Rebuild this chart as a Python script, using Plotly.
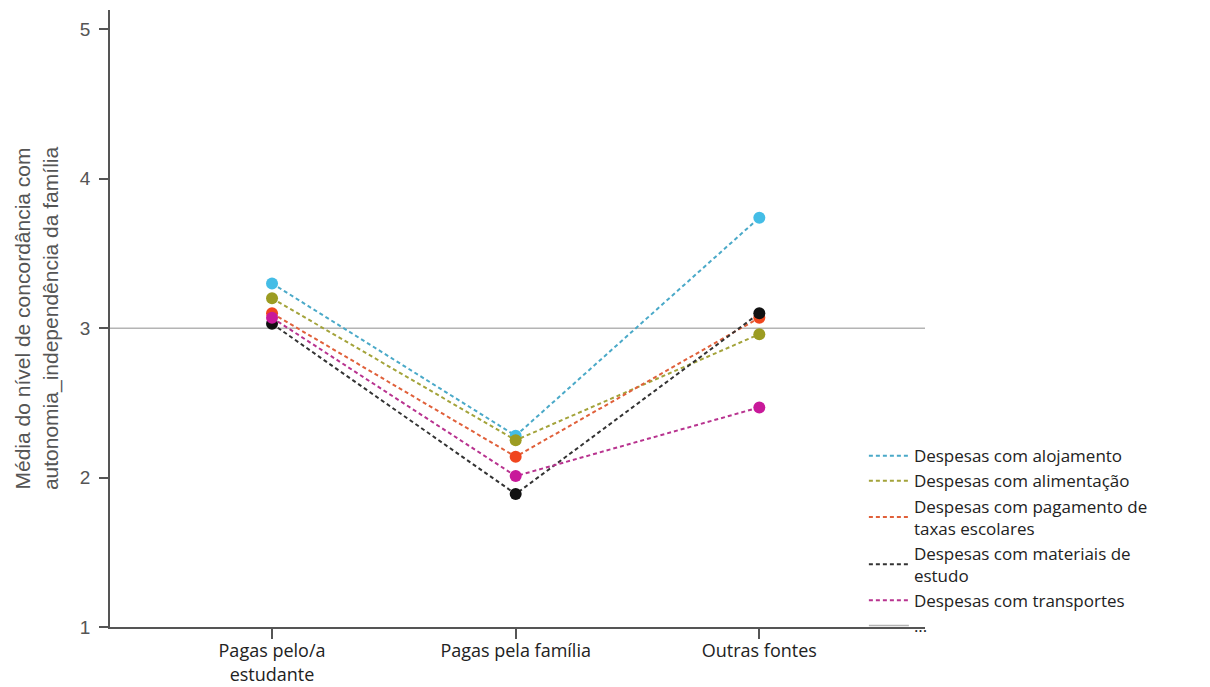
import plotly.graph_objects as go

# Categories (who pays the expenses) and mean agreement per expense type
categories = ["Pagas pelo/a<br>estudante", "Pagas pela família", "Outras fontes"]
series_names = [
    "Despesas com alojamento",
    "Despesas com alimentação",
    "Despesas com pagamento de<br>taxas escolares",
    "Despesas com materiais de<br>estudo",
    "Despesas com transportes",
]
alojamento = [3.30, 2.28, 3.74]
alimentacao = [3.20, 2.25, 2.96]
taxas = [3.10, 2.14, 3.07]
materiais = [3.03, 1.89, 3.10]
transportes = [3.07, 2.01, 2.47]
series_values = [alojamento, alimentacao, taxas, materiais, transportes]
colors = ["#44bde6", "#9c9c22", "#f0461e", "#111111", "#c8199a"]
line_colors = ["#4aa9c8", "#a3a33a", "#e0603a", "#333333", "#b8338f"]
reference_value = 3

x_pos = list(range(len(categories)))
dash_style = "4px,3px"

fig = go.Figure()
for name, vals, c, lc in zip(series_names, series_values, colors, line_colors):
    fig.add_trace(go.Scatter(
        x=x_pos, y=vals, name=name, mode="lines+markers",
        line=dict(color=lc, width=2, dash=dash_style),
        marker=dict(color=c, size=12),
        showlegend=False,
    ))

# Legend entries show only the dashed line, without the marker
for name, lc in zip(series_names, line_colors):
    fig.add_trace(go.Scatter(
        x=[None], y=[None], name=name, mode="lines",
        line=dict(color=lc, width=2, dash=dash_style),
        showlegend=True, hoverinfo="skip",
    ))

# Reference line at the scale midpoint
fig.add_shape(
    type="line", xref="paper", x0=0, x1=1, yref="y",
    y0=reference_value, y1=reference_value,
    line=dict(color="#b4b4b4", width=1.5),
    layer="below", showlegend=True, name="...",
)

axis_color = "#555555"
fig.update_layout(
    width=1210, height=687,
    margin=dict(l=110, r=285, t=10, b=60),
    paper_bgcolor="white", plot_bgcolor="white",
    showlegend=True,
    legend=dict(
        x=0.925, y=0.306, xanchor="left", yanchor="top",
        font=dict(family="Open Sans", size=17, color="#222222"),
        tracegroupgap=0, itemwidth=40,
        bgcolor="rgba(0,0,0,0)",
    ),
    xaxis=dict(
        range=[-0.665, 2.68], tickvals=x_pos, ticktext=categories,
        showgrid=False, zeroline=False, automargin=False,
        showline=True, linecolor=axis_color, linewidth=1.5,
        ticks="outside", ticklen=10, tickwidth=1.5, tickcolor=axis_color,
        ticklabelstandoff=-3,
        tickfont=dict(family="Open Sans", size=18, color="#222222"),
    ),
    yaxis=dict(
        range=[1, 5.13], tickvals=[1, 2, 3, 4, 5],
        showgrid=False, zeroline=False, automargin=False,
        showline=True, linecolor=axis_color, linewidth=1.5,
        ticks="outside", ticklen=9, tickwidth=1.5, tickcolor=axis_color,
        ticklabelstandoff=5,
        tickfont=dict(family="Liberation Sans", size=19, color="#555555"),
        title=dict(
            text="Média do nível de concordância com<br>autonomia_independência da família",
            font=dict(family="Liberation Sans", size=21, color="#555555"),
            standoff=16,
        ),
    ),
)

fig.write_html("out.html")
